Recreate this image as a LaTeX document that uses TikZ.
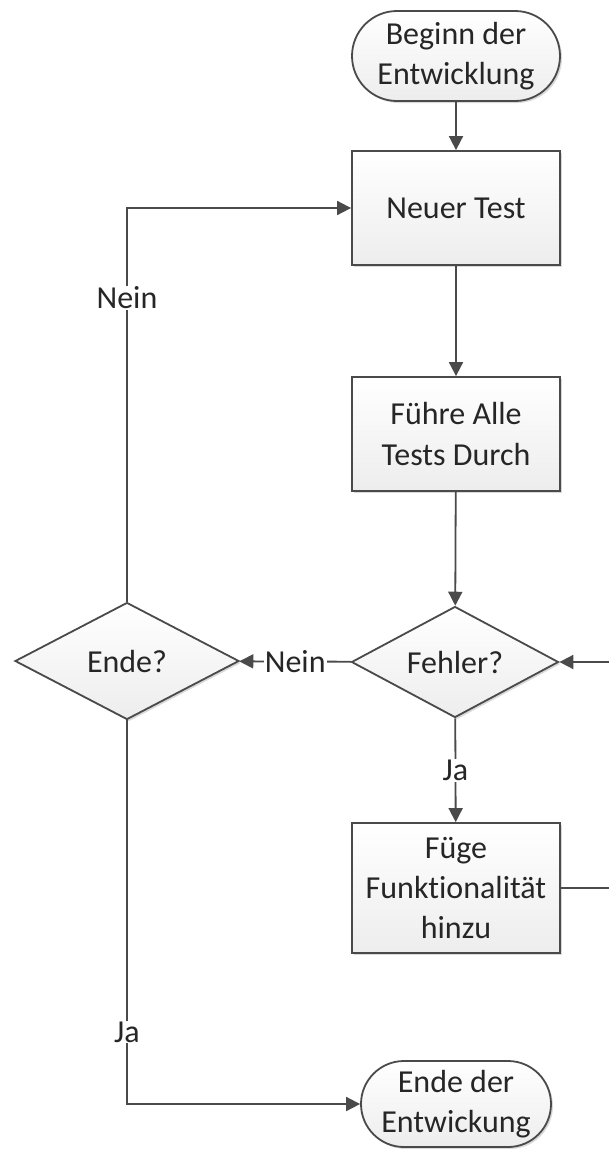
\documentclass[tikz,border=0pt]{standalone}
\usepackage{fontspec}
\setmainfont{Carlito}[Ligatures=NoCommon]
\usetikzlibrary{shapes.geometric,shapes.misc,arrows.meta,shadows}
\definecolor{linegray}{HTML}{4A4A4A}
\definecolor{textgray}{HTML}{262626}
\definecolor{fillgray}{HTML}{EDEDED}
\tikzset{
  base/.style={draw=linegray, line width=1.8pt, top color=white, bottom color=fillgray,
    text=textgray, font=\fontsize{32}{40}\selectfont, align=center, inner sep=0pt,
    drop shadow={shadow xshift=2pt, shadow yshift=-2pt, opacity=0.15, fill=black}},
  procbox/.style={base, rectangle, minimum width=208pt, minimum height=114pt},
  term/.style={base, rounded rectangle, minimum height=90pt},
  decision/.style={base, diamond, aspect=1.85},
  arr/.style={draw=linegray, line width=1.8pt, -{Triangle[length=14pt,width=14pt]}},
  lbl/.style={fill=white, text=textgray, font=\fontsize{32}{38}\selectfont, inner sep=1pt}
}
\begin{document}
\begin{tikzpicture}[x=1pt,y=-1pt]
\useasboundingbox (0,0) rectangle (608,1149);
\fill[white] (0,0) rectangle (608,1149);

% flow nodes
\node[term, minimum width=208pt] (start) at (456,56) {Beginn der\\Entwicklung};
\node[procbox] (neu) at (456,208) {Neuer Test};
\node[procbox] (fuehre) at (456,434) {Führe Alle\\Tests Durch};
\node[decision, minimum width=207pt, minimum height=111pt] (fehler) at (455,662) {Fehler?};
\node[decision, minimum width=224pt, minimum height=117pt] (ende) at (127,661) {Ende?};
\node[procbox, minimum height=130pt] (fuege) at (456,888) {Füge\\Funktionalität\\hinzu};
\node[term, minimum width=190pt, minimum height=86pt] (stop) at (456,1104) {Ende der\\Entwickung};

% return route beyond the right edge
\coordinate (rloop) at (660,0);

% connectors
\draw[arr] (start) -- (neu);
\draw[arr] (neu) -- (fuehre);
\draw[arr] (fuehre) -- (fehler);
\draw[arr] (fehler) -- node[lbl]{Ja} (fuege);
\draw[arr] (fehler) -- node[lbl]{Nein} (ende);
\draw[arr] (fuege.east) -- (fuege.east -| rloop) -- (fehler.east -| rloop) -- (fehler.east);
\draw[arr] (ende.north) |- node[lbl, pos=0.386]{Nein} (neu.west);
\draw[arr] (ende.south) |- node[lbl, pos=0.406]{Ja} (stop.west);
\end{tikzpicture}
\end{document}
